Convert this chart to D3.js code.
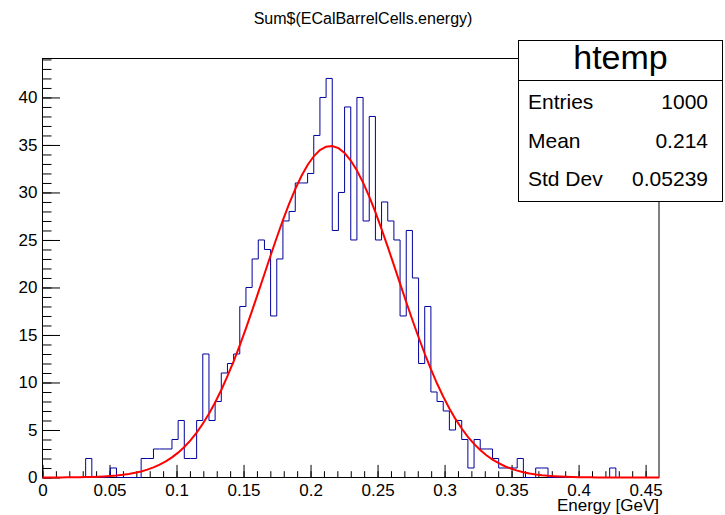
<!DOCTYPE html>
<html>
<head>
<meta charset="utf-8">
<script src="https://cdn.jsdelivr.net/npm/d3@7"></script>
<style>
body { margin: 0; background: #fff; }
svg { font-family: "Liberation Sans", Arial, Helvetica, sans-serif; }
</style>
</head>
<body>
<div id="container"></div>
<script>
// htemp: 100 bins between 0 and 0.46 GeV
const binCounts = [
  0, 0, 0, 0, 0, 0, 0, 2, 0, 0,
  0, 1, 0, 0, 0, 0, 2, 2, 3, 3,
  3, 4, 6, 2, 2, 6, 13, 6, 8, 11,
  12, 13, 18, 20, 23, 25, 24, 17, 23, 27,
  28, 31, 31, 32, 36, 40, 42, 26, 30, 39,
  25, 40, 27, 38, 25, 29, 27, 25, 17, 26,
  21, 12, 18, 9, 8, 7, 5, 6, 4, 1,
  4, 3, 3, 2, 1, 1, 1, 2, 0, 0,
  1, 1, 0, 0, 0, 0, 0, 0, 0, 0,
  0, 0, 1, 0, 0, 0, 0, 0, 0, 0
];
const histRange = [0, 0.46];
const fitParams = [34.9, 0.215, 0.050]; // gaus: constant, mean, sigma
const xTicks = [0, 0.05, 0.1, 0.15, 0.2, 0.25, 0.3, 0.35, 0.4, 0.45];
const yTicks = [0, 5, 10, 15, 20, 25, 30, 35, 40];
const statLabels = ["Entries", "Mean", "Std Dev"];
const statValues = ["1000", "0.214", "0.05239"];
const histName = "htemp";
const title = "Sum$(ECalBarrelCells.energy)";
const xTitle = "Energy [GeV]";

const width = 725;
const height = 515;
const margin = ({top: 58.5, right: 66, bottom: 37.5, left: 42.5});

const svg = d3.select("#container").append("svg")
    .attr("width", width)
    .attr("height", height)
    .attr("viewBox", [0, 0, width, height]);

const x = d3.scaleLinear(histRange, [margin.left, width - margin.right]);
const y = d3.scaleLinear([0, d3.max(binCounts) * 1.05], [height - margin.bottom, margin.top]);

// frame
svg.append("rect")
    .attr("x", margin.left)
    .attr("y", margin.top)
    .attr("width", width - margin.right - margin.left)
    .attr("height", height - margin.bottom - margin.top)
    .attr("fill", "none")
    .attr("stroke", "black");

const xAxis = g => g
    .attr("transform", `translate(0,${height - margin.bottom})`)
    .call(d3.axisBottom(x).tickValues(xTicks).tickSize(-12.6).tickPadding(6).tickFormat(d3.format("~g")))
    .call(g => g.select(".domain").remove());
const xMinor = g => g
    .attr("transform", `translate(0,${height - margin.bottom})`)
    .call(d3.axisBottom(x).tickValues(d3.range(0, 46).map(i => i / 100)).tickSize(-6.3).tickFormat(""))
    .call(g => g.select(".domain").remove());
const yAxis = g => g
    .attr("transform", `translate(${margin.left},0)`)
    .call(d3.axisLeft(y).tickValues(yTicks).tickSize(-17.5).tickPadding(5))
    .call(g => g.select(".domain").remove());
const yMinor = g => g
    .attr("transform", `translate(${margin.left},0)`)
    .call(d3.axisLeft(y).tickValues(d3.range(0, 45)).tickSize(-9).tickFormat(""))
    .call(g => g.select(".domain").remove());

svg.append("g").call(xMinor);
svg.append("g").call(yMinor);
svg.append("g").call(xAxis);
svg.append("g").call(yAxis);
svg.selectAll(".tick line").attr("stroke", "black");
svg.selectAll(".tick text")
    .attr("fill", "black")
    .attr("font-size", 17)
    .attr("font-family", "Liberation Sans, Arial, sans-serif");

// histogram outline
const binW = (histRange[1] - histRange[0]) / binCounts.length;
const steps = binCounts.map((c, i) => [histRange[0] + i * binW, c]);
steps.push([histRange[1], binCounts[binCounts.length - 1]]);
svg.append("path")
    .datum(steps)
    .attr("fill", "none")
    .attr("stroke", "#00009c")
    .attr("stroke-width", 1)
    .attr("d", d3.line().x(d => x(d[0])).y(d => y(d[1])).curve(d3.curveStepAfter));

// gaussian fit
const gaus = v => fitParams[0] * Math.exp(-0.5 * ((v - fitParams[1]) / fitParams[2]) ** 2);
const fitPts = d3.range(0, 101).map(i => histRange[0] + i * (histRange[1] - histRange[0]) / 100);
svg.append("path")
    .datum(fitPts)
    .attr("fill", "none")
    .attr("stroke", "#ff0000")
    .attr("stroke-width", 2)
    .attr("d", d3.line().x(d => x(d)).y(d => y(gaus(d))));

// titles
svg.append("text")
    .attr("x", 363)
    .attr("y", 24)
    .attr("text-anchor", "middle")
    .attr("font-size", 16)
    .text(title);
svg.append("text")
    .attr("x", width - margin.right)
    .attr("y", 511)
    .attr("text-anchor", "end")
    .attr("font-size", 17)
    .text(xTitle);

// stats box
const stats = svg.append("g");
stats.append("rect")
    .attr("x", 518.5).attr("y", 40.5)
    .attr("width", 204).attr("height", 161)
    .attr("fill", "white").attr("stroke", "black");
stats.append("line")
    .attr("x1", 518.5).attr("x2", 722.5)
    .attr("y1", 80.5).attr("y2", 80.5)
    .attr("stroke", "black");
stats.append("text")
    .attr("x", 620.5).attr("y", 69)
    .attr("text-anchor", "middle")
    .attr("font-size", 34)
    .text(histName);
const rowY = [108.5, 148, 186];
stats.selectAll(".lab")
  .data(statLabels)
  .join("text")
    .attr("class", "lab")
    .attr("x", 528)
    .attr("y", (d, i) => rowY[i])
    .attr("font-size", 21)
    .text(d => d);
stats.selectAll(".val")
  .data(statValues)
  .join("text")
    .attr("class", "val")
    .attr("x", 708)
    .attr("y", (d, i) => rowY[i])
    .attr("text-anchor", "end")
    .attr("font-size", 21)
    .text(d => d);
</script>
</body>
</html>
